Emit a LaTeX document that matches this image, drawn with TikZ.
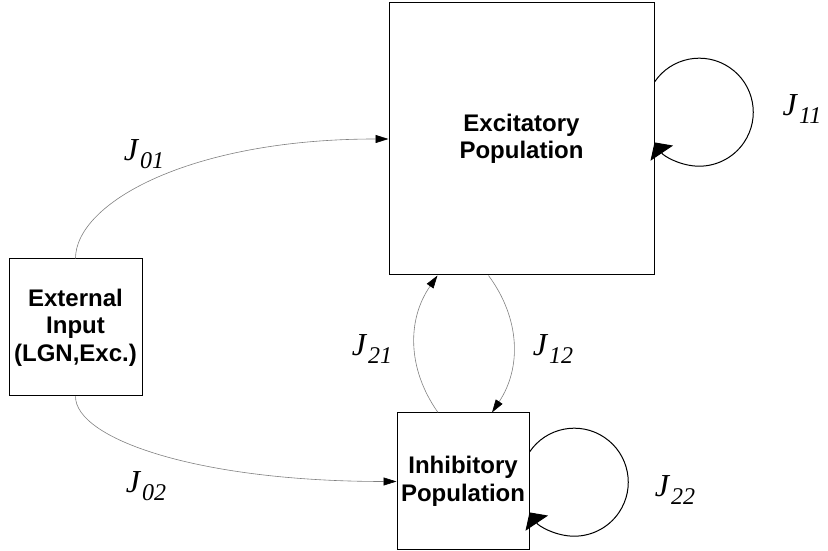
\documentclass[tikz,border=0pt]{standalone}
\usepackage{fontspec}
\setmainfont{Liberation Serif}
\setsansfont{Liberation Sans}
\usetikzlibrary{arrows.meta}
\newcommand{\coup}[1]{{\fontsize{32}{32}\selectfont\textit{J}\kern1pt\raisebox{-8pt}{\fontsize{24}{24}\selectfont\textit{#1}}}}

\begin{document}
\begin{tikzpicture}[x=1pt,y=1pt,
        popbox/.style={draw, line width=1pt, align=center, inner sep=0pt,
          font=\sffamily\bfseries\fontsize{24}{27.5}\selectfont},
        feed/.style={draw=gray, line width=0.6pt, -{Triangle[black,length=13pt,width=8pt]}},
        selfloop/.style={draw, line width=1pt, -{Triangle[length=13pt,width=27pt]}}]
        \useasboundingbox (0,0) rectangle (828,551);
        % populations
        \node[popbox, minimum width=265pt, minimum height=272pt] (exc) at (521.5,412) {Excitatory\\Population};
        \node[popbox, minimum width=133pt, minimum height=137pt] (ext) at (75.5,223.5) {External\\Input\\(LGN,Exc.)};
        \node[popbox, minimum width=132pt, minimum height=137pt] (inh) at (463,69.5) {Inhibitory\\Population};
        % couplings
        \draw[feed] (ext.north) .. controls +(0,55) and +(-200,0) .. (exc.west);
        \draw[feed] (ext.south) .. controls +(0,-42) and +(-200,0) .. (inh.west);
        \draw[feed] ([xshift=-25pt]inh.north) to[bend left=35] ([xshift=-84pt]exc.south);
        \draw[feed] ([xshift=-33pt]exc.south) to[bend left=35] ([xshift=29pt]inh.north);
        \draw[selfloop] ([yshift=57pt]exc.east) arc[start angle=146, end angle=-146, radius=54];
        \draw[selfloop] ([yshift=29.5pt]inh.east) arc[start angle=146, end angle=-146, radius=54];
        % labels
        \node (j01) at (144,397) {\coup{01}};
        \node (j11) at (802,442) {\coup{11}};
        \node (j21) at (372,202) {\coup{21}};
        \node (j12) at (553,202) {\coup{12}};
        \node (j02) at (146,65) {\coup{02}};
        \node (j22) at (675,61) {\coup{22}};
      \end{tikzpicture}
\end{document}
